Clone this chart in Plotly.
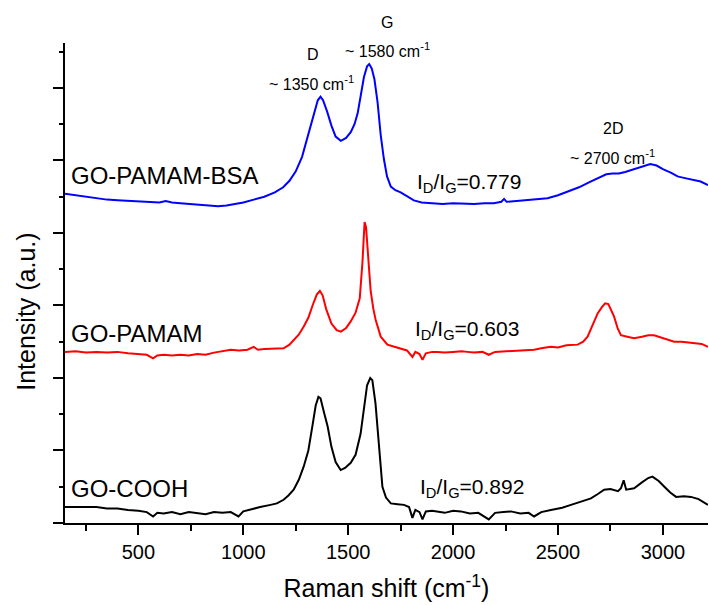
import plotly.graph_objects as go

# Raman spectra (offset for clarity), intensity in arbitrary units
bsa_x = [150, 200, 250, 300, 350, 400, 450, 500, 550, 600, 630, 660, 700, 750, 800, 850, 880, 920, 960,
         1000, 1050, 1100, 1150, 1190, 1220, 1250, 1280, 1300, 1320, 1340, 1355, 1368, 1380, 1400, 1420,
         1440, 1465, 1490, 1512, 1530, 1545, 1560, 1575, 1590, 1600, 1612, 1625, 1640, 1655, 1670, 1685,
         1703, 1725, 1750, 1775, 1800, 1813, 1850, 1900, 1950, 2000, 2050, 2100, 2150, 2194, 2230, 2243,
         2255, 2300, 2350, 2400, 2450, 2500, 2550, 2600, 2650, 2700, 2730, 2760, 2790, 2820, 2860, 2900,
         2940, 2970, 3000, 3040, 3070, 3100, 3150, 3180, 3215]
bsa_y = [4.54, 4.52, 4.50, 4.47, 4.46, 4.45, 4.44, 4.43, 4.42, 4.42, 4.44, 4.42, 4.41, 4.40, 4.39, 4.38, 4.37,
         4.38, 4.40, 4.42, 4.46, 4.50, 4.56, 4.63, 4.72, 4.85, 5.05, 5.25, 5.46, 5.68, 5.83, 5.88, 5.83, 5.67,
         5.48, 5.33, 5.27, 5.31, 5.39, 5.50, 5.65, 5.90, 6.15, 6.30, 6.33, 6.27, 6.12, 5.80, 5.35, 5.02, 4.78,
         4.64, 4.59, 4.56, 4.52, 4.47, 4.45, 4.42, 4.41, 4.40, 4.41, 4.40, 4.40, 4.41, 4.41, 4.43, 4.47,
         4.43, 4.44, 4.45, 4.46, 4.48, 4.52, 4.57, 4.63, 4.70, 4.77, 4.81, 4.82, 4.82, 4.84, 4.88, 4.92,
         4.95, 4.93, 4.88, 4.83, 4.78, 4.76, 4.73, 4.71, 4.66]

pamam_x = [150, 200, 250, 300, 350, 400, 450, 500, 540, 570, 590, 620, 660, 700, 740, 780, 820, 860, 900,
           940, 980, 1020, 1049, 1070, 1100, 1130, 1160, 1192, 1220, 1240, 1265, 1288, 1310, 1330, 1350,
           1365, 1378, 1395, 1420, 1445, 1465, 1490, 1512, 1535, 1555, 1568, 1578, 1585, 1595, 1607, 1620,
           1631, 1655, 1687, 1720, 1750, 1780, 1806, 1820, 1840, 1854, 1870, 1900, 1925, 1960, 2000, 2040,
           2068, 2100, 2140, 2170, 2200, 2250, 2307, 2350, 2386, 2420, 2466, 2500, 2540, 2594, 2620, 2641,
           2665, 2689, 2710, 2725, 2740, 2755, 2767, 2785, 2800, 2830, 2863, 2900, 2930, 2958, 2990, 3020,
           3054, 3090, 3120, 3150, 3185, 3215]
pamam_y = [2.36, 2.37, 2.35, 2.36, 2.35, 2.36, 2.34, 2.33, 2.32, 2.27, 2.31, 2.32, 2.31, 2.32, 2.31, 2.33,
           2.32, 2.35, 2.37, 2.39, 2.38, 2.39, 2.43, 2.39, 2.40, 2.40, 2.41, 2.41, 2.46, 2.52, 2.60, 2.71,
           2.83, 3.00, 3.15, 3.20, 3.14, 2.95, 2.75, 2.66, 2.64, 2.69, 2.78, 2.90, 3.10, 3.60, 4.15, 4.08,
           3.70, 3.20, 2.95, 2.80, 2.57, 2.46, 2.43, 2.41, 2.38, 2.29, 2.36, 2.33, 2.25, 2.34, 2.36, 2.36,
           2.35, 2.36, 2.37, 2.36, 2.35, 2.36, 2.32, 2.36, 2.37, 2.38, 2.39, 2.39, 2.41, 2.43, 2.42, 2.45,
           2.46, 2.50, 2.57, 2.72, 2.89, 2.98, 3.03, 3.02, 2.93, 2.85, 2.68, 2.59, 2.57, 2.55, 2.57, 2.59,
           2.59, 2.56, 2.53, 2.50, 2.50, 2.49, 2.48, 2.47, 2.43]

cooh_x = [150, 200, 250, 300, 350, 400, 450, 500, 540, 570, 590, 620, 660, 700, 740, 780, 820, 860, 900,
          940, 977, 1000, 1049, 1080, 1130, 1160, 1192, 1215, 1240, 1265, 1288, 1310, 1330, 1345, 1358,
          1368, 1385, 1402, 1420, 1440, 1464, 1485, 1512, 1535, 1559, 1575, 1590, 1605, 1615, 1630, 1639,
          1650, 1663, 1680, 1703, 1735, 1766, 1790, 1806, 1820, 1840, 1854, 1870, 1900, 1925, 1960, 2000,
          2037, 2080, 2120, 2170, 2200, 2240, 2275, 2320, 2360, 2386, 2420, 2466, 2520, 2562, 2610, 2657,
          2690, 2720, 2750, 2786, 2800, 2813, 2825, 2863, 2900, 2930, 2950, 2980, 3007, 3035, 3063, 3100,
          3134, 3170, 3215]
cooh_y = [0.22, 0.22, 0.21, 0.22, 0.20, 0.20, 0.18, 0.17, 0.15, 0.09, 0.14, 0.13, 0.15, 0.12, 0.15, 0.14,
          0.12, 0.15, 0.14, 0.15, 0.09, 0.16, 0.20, 0.22, 0.25, 0.27, 0.32, 0.38, 0.46, 0.60, 0.78, 1.00,
          1.35, 1.62, 1.74, 1.72, 1.52, 1.33, 1.05, 0.84, 0.73, 0.76, 0.83, 0.94, 1.23, 1.60, 1.90, 2.00,
          1.97, 1.65, 1.33, 0.90, 0.50, 0.35, 0.27, 0.26, 0.25, 0.22, 0.07, 0.18, 0.15, 0.05, 0.16, 0.17,
          0.16, 0.14, 0.17, 0.16, 0.13, 0.14, 0.05, 0.14, 0.15, 0.16, 0.13, 0.14, 0.09, 0.15, 0.18, 0.21,
          0.25, 0.30, 0.34, 0.40, 0.46, 0.47, 0.44, 0.48, 0.59, 0.46, 0.48, 0.56, 0.62, 0.64, 0.58, 0.50,
          0.42, 0.36, 0.37, 0.36, 0.33, 0.25]

sample_names = ["GO-PAMAM-BSA", "GO-PAMAM", "GO-COOH"]
id_ig_ratios = ["0.779", "0.603", "0.892"]
x_ticks = [500, 1000, 1500, 2000, 2500, 3000]

FONT = "Arial, 'Liberation Sans', sans-serif"

fig = go.Figure()
for xs, ys, col in [(bsa_x, bsa_y, "#0000ff"), (pamam_x, pamam_y, "#ff0000"), (cooh_x, cooh_y, "#000000")]:
    fig.add_trace(go.Scatter(x=xs, y=ys, mode="lines", line=dict(color=col, width=2), showlegend=False))

# sample labels and ratio labels
name_y = [4.79, 2.62, 0.47]
ratio_pos = [(1818, 4.69), (1809, 2.66), (1833, 0.48)]
for name, ny in zip(sample_names, name_y):
    fig.add_annotation(x=169, y=ny, text=name, showarrow=False, xanchor="left", yanchor="middle",
                       font=dict(family=FONT, size=24, color="black"))
for r, (rx, ry) in zip(id_ig_ratios, ratio_pos):
    fig.add_annotation(x=rx, y=ry, text=f"I<sub>D</sub>/I<sub>G</sub>={r}", showarrow=False,
                       xanchor="left", yanchor="middle", font=dict(family=FONT, size=21, color="black"))

# band labels: name sits above the position label (shifted in pixels)
bands = [("D", "~ 1350 cm<sup>-1</sup>", 1332, 1327, 6.07),
         ("G", "~ 1580 cm<sup>-1</sup>", 1685, 1685, 6.52),
         ("2D", "~ 2700 cm<sup>-1</sup>", 2762, 2758, 5.05)]
for lab, pos, lx, px, py in bands:
    fig.add_annotation(x=lx, y=py, yshift=28, text=lab, showarrow=False,
                       font=dict(family=FONT, size=16, color="black"))
    fig.add_annotation(x=px, y=py, text=pos, showarrow=False, font=dict(family=FONT, size=16, color="black"))

# y-axis title placed as a rotated annotation
fig.add_annotation(xref="paper", yref="paper", x=-0.0607, y=0.44, text="Intensity (a.u.)",
                   textangle=-90, showarrow=False, xanchor="center", yanchor="middle",
                   font=dict(family=FONT, size=25, color="black"))

fig.update_layout(
    width=709, height=605,
    margin=dict(l=65, r=1, t=43, b=82),
    plot_bgcolor="white", paper_bgcolor="white",
    font=dict(family=FONT, color="black"),
    xaxis=dict(range=[150, 3215], tickvals=x_ticks, ticks="outside", ticklen=10, tickwidth=1.5,
               tickcolor="black", showline=True, linecolor="black", linewidth=1.5, showgrid=False,
               zeroline=False, tickfont=dict(size=20),
               minor=dict(tickvals=[250, 750, 1250, 1750, 2250, 2750], ticks="outside", ticklen=6,
                          tickwidth=1.5, tickcolor="black"),
               title=dict(text="Raman shift (cm<sup>-1</sup>)", font=dict(size=25), standoff=18)),
    yaxis=dict(range=[0, 6.62], dtick=1, tick0=0, ticks="outside", ticklen=10, tickwidth=1.5,
               tickcolor="black", showline=True, linecolor="black", linewidth=1.5, showgrid=False,
               zeroline=False, showticklabels=False,
               minor=dict(dtick=0.5, ticks="outside", ticklen=4, tickwidth=1.5, tickcolor="black")),
)

fig.write_html("out.html")
